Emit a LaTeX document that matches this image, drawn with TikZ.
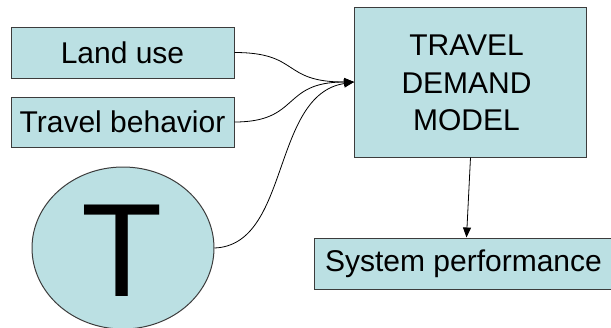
\documentclass[tikz,border=0pt]{standalone}
\usepackage{fontspec}
\setmainfont{Liberation Sans}
\usetikzlibrary{arrows.meta,shapes.geometric}
\definecolor{boxfill}{RGB}{187,224,227}
\definecolor{boxline}{RGB}{60,60,60}
\begin{document}
\begin{tikzpicture}[x=1pt,y=-1pt,
  box/.style={draw=boxline,line width=1pt,fill=boxfill,inner sep=0pt,align=center,
    font=\fontsize{30}{37.5}\selectfont},
  txt/.style={inner sep=0pt,align=center,font=\fontsize{30}{37.5}\selectfont},
  conn/.style={draw=black,line width=0.8pt,-{Triangle[length=10pt,width=8pt]}}]
\useasboundingbox (0,0) rectangle (611,327);
\begin{scope}
\clip (0,0) rectangle (611,327);
\node[box,minimum width=223pt,minimum height=51pt] (lu) at (122.5,52.5) {Land use};
\node[box,minimum width=223pt,minimum height=50pt] (tb) at (122.5,122) {Travel behavior};
\node[box,minimum width=232pt,minimum height=150pt] (tdm) at (470.5,82) {};
\node[txt] (tdmtext) at ([xshift=-4pt,yshift=-1pt]tdm.center) {TRAVEL\\DEMAND\\MODEL};
\node[box,minimum width=298pt,minimum height=51pt] (sp) at (463.5,263.5) {System performance};
\node[box,ellipse,minimum width=182pt,minimum height=162pt] (t) at (123,248) {};
\node (tl) at (122.5,250.5) {\fontsize{133}{133}\selectfont T};
\end{scope}
\draw[conn] (lu.east) .. controls +(66,0) and +(-73,0) .. (tdm.west);
\draw[conn] (tb.east) .. controls +(66,0) and +(-73,0) .. (tdm.west);
\draw[conn] (t.east) .. controls +(76,-3) and +(-83,13) .. (tdm.west);
\draw[conn] (tdm.south) -- ([xshift=3pt]sp.north);
\end{tikzpicture}
\end{document}
